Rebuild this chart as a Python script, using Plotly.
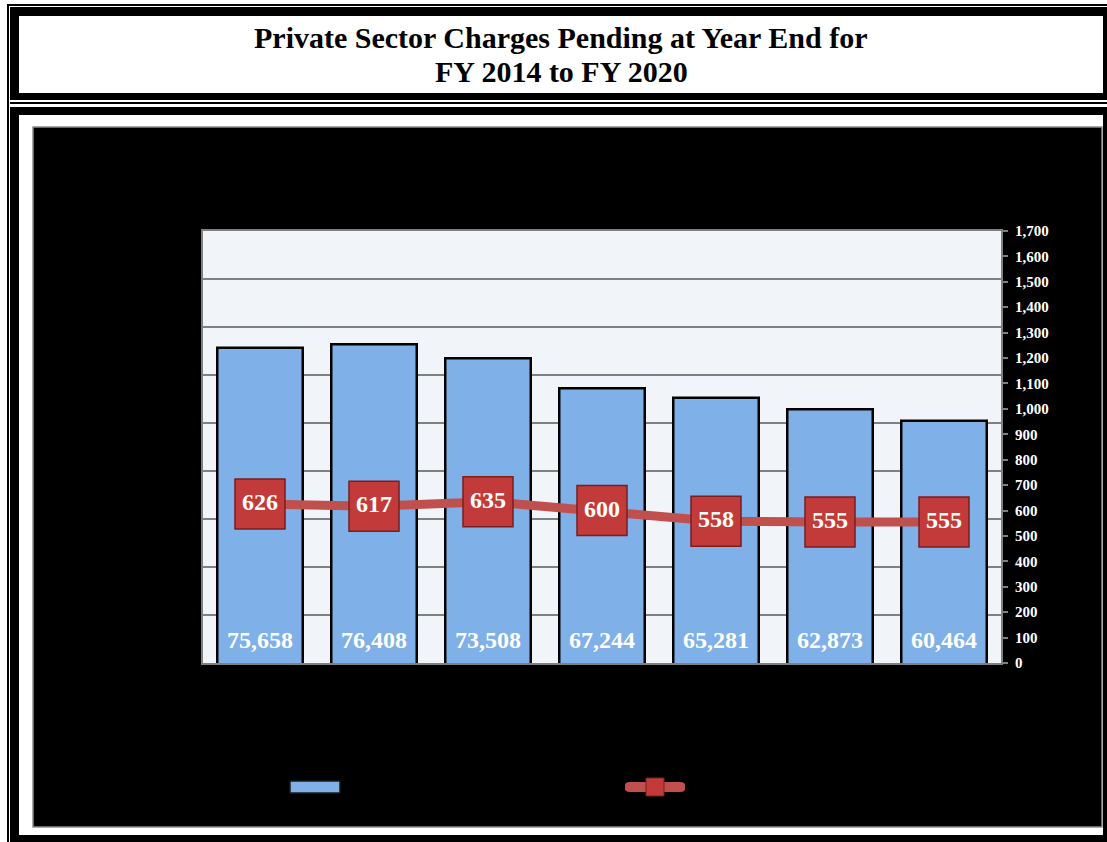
import plotly.graph_objects as go

W, H = 1107, 842

categories = ["FY 2014", "FY 2015", "FY 2016", "FY 2017", "FY 2018", "FY 2019", "FY 2020"]
charges_pending = [75658, 76408, 73508, 67244, 65281, 62873, 60464]
avg_days = [626, 617, 635, 600, 558, 555, 555]
y2_ticks = list(range(0, 1701, 100))

def px(x):
    return x / W

def py(y):
    return 1 - y / H

SERIF = "Liberation Serif, Times New Roman, serif"

fig = go.Figure()

fig.add_trace(go.Bar(
    x=categories, y=charges_pending,
    marker=dict(color="#7FB0E8", line=dict(color="#000000", width=2.5)),
    width=0.75, showlegend=False, hoverinfo="skip",
))

label_y = 14300
fig.add_trace(go.Scatter(
    x=categories, y=[label_y] * len(categories),
    mode="text", text=[f"{v:,}" for v in charges_pending],
    textfont=dict(family=SERIF, size=24, color="white", weight="bold"),
    showlegend=False, hoverinfo="skip",
))

fig.add_trace(go.Scatter(
    x=categories, y=avg_days, yaxis="y2",
    mode="lines+markers+text",
    line=dict(color="#C0504D", width=9),
    marker=dict(symbol="square", size=50, color="#C23B3A",
                line=dict(color="#7A1E1E", width=1.5)),
    text=[str(v) for v in avg_days], textposition="middle center",
    textfont=dict(family=SERIF, size=24, color="white", weight="bold"),
    showlegend=False, hoverinfo="skip", cliponaxis=False,
))

shapes = []
def rect(x0, y0, x1, y1, fill=None, line_color=None, lw=0, layer="below"):
    shapes.append(dict(type="rect", xref="paper", yref="paper",
                       x0=px(x0), x1=px(x1), y0=py(y0), y1=py(y1),
                       fillcolor=fill if fill else "rgba(0,0,0,0)",
                       line=dict(color=line_color if line_color else "rgba(0,0,0,0)", width=lw),
                       layer=layer))

# outer thin frame lines
rect(7, 4, 1107, 842, fill="#000000")
rect(9, 6, 1107, 842, fill="#FFFFFF")
# title box
rect(10, 7, 1107, 100, fill="#000000")
rect(19, 16, 1103, 93, fill="#FFFFFF")
# thin separator
rect(10, 102, 1107, 104, fill="#000000")
# lower box
rect(10, 107, 1107, 842, fill="#000000")
rect(19, 115, 1103, 835, fill="#FFFFFF")
# black chart area
rect(33, 127, 1102, 827, fill="#000000", line_color="#8C8C8C", lw=1.5)
# plot area background
rect(203, 231, 1001, 663, fill="#F1F5FA")

# legend swatches
rect(290, 781, 340, 793, fill="#7FB0E8", line_color="#1A1A1A", lw=1.5, layer="above")
# rounded legend line (pill)
x0, x1, yc, r = 625, 685, 787, 5
pill = (f"M {px(x0 + r)},{py(yc - r)} L {px(x1 - r)},{py(yc - r)} "
        f"Q {px(x1 + 1)},{py(yc - r)} {px(x1)},{py(yc)} "
        f"Q {px(x1 + 1)},{py(yc + r)} {px(x1 - r)},{py(yc + r)} "
        f"L {px(x0 + r)},{py(yc + r)} "
        f"Q {px(x0 - 1)},{py(yc + r)} {px(x0)},{py(yc)} "
        f"Q {px(x0 - 1)},{py(yc - r)} {px(x0 + r)},{py(yc - r)} Z")
shapes.append(dict(type="path", xref="paper", yref="paper", path=pill,
                   fillcolor="#C0504D", line=dict(width=0), layer="above"))
rect(646, 778, 664, 796, fill="#C23B3A", line_color="#7A1E1E", lw=1, layer="above")

annotations = [
    dict(text="<b>Private Sector Charges Pending at Year End for</b>",
         x=px(561), y=py(37), xref="paper", yref="paper",
         xanchor="center", yanchor="middle", showarrow=False,
         font=dict(family=SERIF, size=30, color="#000000")),
    dict(text="<b>FY 2014 to FY 2020</b>",
         x=px(561), y=py(72), xref="paper", yref="paper",
         xanchor="center", yanchor="middle", showarrow=False,
         font=dict(family=SERIF, size=30, color="#000000")),
]

fig.update_layout(
    width=W, height=H,
    margin=dict(l=0, r=0, t=0, b=0, pad=0, autoexpand=False),
    paper_bgcolor="#FFFFFF",
    plot_bgcolor="rgba(0,0,0,0)",
    bargap=0.25,
    shapes=shapes,
    annotations=annotations,
    xaxis=dict(domain=[px(203), px(1001)], type="category", range=[-0.5, 6.5],
               showline=True, linecolor="#808080", linewidth=2, mirror=True,
               showgrid=False, zeroline=False, automargin=False,
               tickfont=dict(color="#000000", size=1)),
    yaxis=dict(domain=[py(663), py(231)], range=[10000, 100000], dtick=10000,
               showticklabels=False, showgrid=True, gridcolor="#808080", gridwidth=1.5,
               showline=True, linecolor="#808080", linewidth=2, mirror=True,
               zeroline=False, ticks="", automargin=False),
    yaxis2=dict(overlaying="y", side="right", range=[0, 1700],
                tickvals=y2_ticks, ticktext=[f"{v:,}" for v in y2_ticks],
                showgrid=False, zeroline=False, automargin=False,
                showline=True, linecolor="#808080", linewidth=2,
                ticks="outside", ticklen=5, tickcolor="#808080", tickwidth=1.5,
                ticklabelstandoff=4,
                tickfont=dict(family=SERIF, size=15, color="#FFFFFF", weight="bold")),
    hovermode=False,
)

fig.write_html("out.html")
